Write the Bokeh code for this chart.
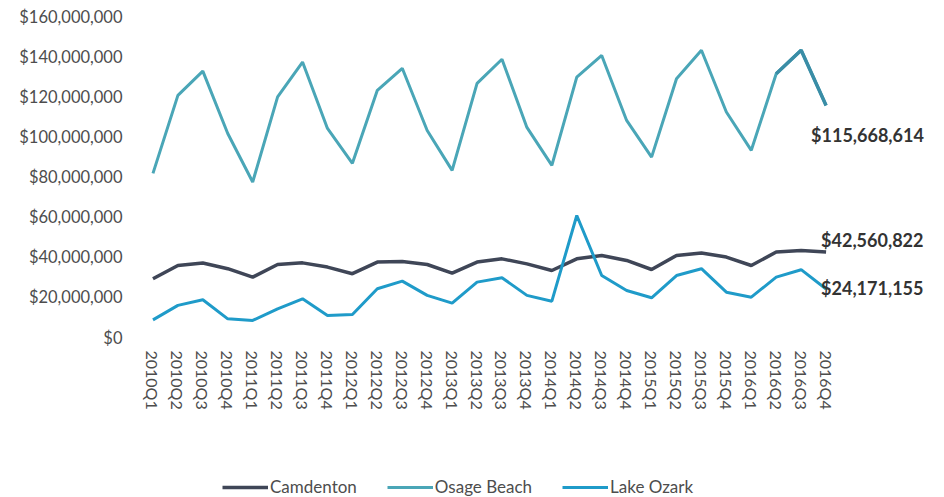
from bokeh.plotting import figure
from bokeh.layouts import column
from bokeh.models import Range1d, NumeralTickFormatter, Label, Legend, LegendItem, FixedTicker
from bokeh.embed import file_html
from bokeh.resources import INLINE

quarters = ["2010Q1", "2010Q2", "2010Q3", "2010Q4",
            "2011Q1", "2011Q2", "2011Q3", "2011Q4",
            "2012Q1", "2012Q2", "2012Q3", "2012Q4",
            "2013Q1", "2013Q2", "2013Q3", "2013Q4",
            "2014Q1", "2014Q2", "2014Q3", "2014Q4",
            "2015Q1", "2015Q2", "2015Q3", "2015Q4",
            "2016Q1", "2016Q2", "2016Q3", "2016Q4"]

camdenton = [29.3e6, 35.9e6, 37.1e6, 34.3e6,
             30.1e6, 36.4e6, 37.2e6, 35.1e6,
             31.8e6, 37.6e6, 37.9e6, 36.4e6,
             32.1e6, 37.6e6, 39.2e6, 36.7e6,
             33.4e6, 39.2e6, 40.9e6, 38.4e6,
             33.9e6, 40.9e6, 42.1e6, 40.1e6,
             35.9e6, 42.6e6, 43.4e6, 42560822]

osage_beach = [81.8e6, 120.7e6, 132.8e6, 101.7e6,
               77.5e6, 119.9e6, 137.3e6, 104.2e6,
               86.8e6, 123.2e6, 134.2e6, 103.2e6,
               83.3e6, 126.7e6, 138.7e6, 104.7e6,
               85.8e6, 129.8e6, 140.6e6, 108.2e6,
               89.9e6, 129.0e6, 143.2e6, 112.4e6,
               93.3e6, 131.5e6, 143.2e6, 115668614]

lake_ozark = [8.8e6, 16.0e6, 18.8e6, 9.3e6,
              8.5e6, 14.3e6, 19.3e6, 11.0e6,
              11.5e6, 24.3e6, 28.1e6, 21.0e6,
              17.1e6, 27.6e6, 29.8e6, 21.0e6,
              18.1e6, 60.8e6, 30.9e6, 23.4e6,
              19.8e6, 30.9e6, 34.3e6, 22.6e6,
              20.1e6, 30.1e6, 33.8e6, 24171155]

y_ticks = [0, 20e6, 40e6, 60e6, 80e6, 100e6, 120e6, 140e6, 160e6]
series_names = ["Camdenton", "Osage Beach", "Lake Ozark"]

FONT = "Lato"
C_CAM = "#3f4657"
C_OSA = "#4aa6b7"
C_OSA_DARK = "#3a8da6"
C_LAKE = "#1f9bc9"
colors = [C_CAM, C_OSA, C_LAKE]
widths = [3.5, 3, 3]
all_series = [camdenton, osage_beach, lake_ozark]

# category positions on a numeric axis (category i centred at i + 0.5)
xpos = [i + 0.5 for i in range(len(quarters))]

p = figure(width=944, height=467, x_range=Range1d(0, 32.25),
           y_range=Range1d(0, 160e6), output_backend="svg", toolbar_location=None,
           min_border_left=140, min_border_right=0, min_border_top=16, min_border_bottom=130)
p.outline_line_color = None
p.grid.visible = False
p.background_fill_color = "white"

for vals, c, w in zip(all_series, colors, widths):
    p.line(xpos, vals, line_color=c, line_width=w)
p.line(xpos[-3:], osage_beach[-3:], line_color=C_OSA_DARK, line_width=3.5)

p.xaxis.ticker = FixedTicker(ticks=xpos)
p.xaxis.major_label_overrides = {x: q for x, q in zip(xpos, quarters)}
p.yaxis.ticker = FixedTicker(ticks=y_ticks)
p.yaxis.formatter = NumeralTickFormatter(format="$0,0")
for ax in (p.xaxis[0], p.yaxis[0]):
    ax.axis_line_color = None
    ax.major_tick_line_color = None
    ax.minor_tick_line_color = None
    ax.major_label_text_font = FONT
    ax.major_label_text_color = "#4d4d4d"
p.yaxis.major_label_text_font_size = "16.5px"
p.yaxis.major_label_standoff = 12
p.xaxis.major_label_text_font_size = "16px"
p.xaxis.major_label_orientation = "vertical"
p.xaxis.major_label_standoff = 7

ann = [(osage_beach, -15, -30), (camdenton, -5, 12), (lake_ozark, -5, 1)]
for series, xo, yo in ann:
    p.add_layout(Label(x=xpos[-1], y=series[-1], x_offset=xo, y_offset=yo,
                       text="${:,.0f}".format(series[-1]), text_font=FONT,
                       text_font_style="bold", text_font_size="18px",
                       text_color="#333333", text_align="left", text_baseline="middle"))

# legend strip below the chart (its lines are out of view; only the legend shows)
lg = figure(width=944, height=30, output_backend="svg", toolbar_location=None,
            x_range=p.x_range, y_range=Range1d(-2, -1),
            x_axis_location=None, y_axis_location=None, min_border=0)
lg.outline_line_color = None
lg.grid.visible = False
items = []
for name, vals, c, w in zip(series_names, all_series, colors, widths):
    r = lg.line(xpos, vals, line_color=c, line_width=w)
    items.append(LegendItem(label=name, renderers=[r]))
legend = Legend(items=items, orientation="horizontal", location=(82, 0),
                label_text_font=FONT, label_text_font_size="17px", label_text_color="#4d4d4d",
                glyph_width=46, label_standoff=2, spacing=30, padding=0, margin=0,
                border_line_color=None, background_fill_alpha=0)
lg.add_layout(legend, "center")

layout = column(p, lg, spacing=0)
open("out.html", "w").write(file_html(layout, INLINE))
